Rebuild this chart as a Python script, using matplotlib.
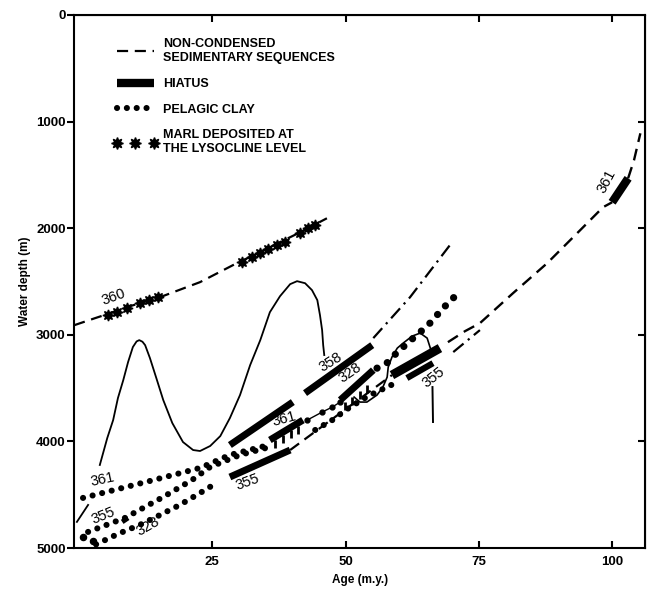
import matplotlib
matplotlib.use('Agg')
import matplotlib.pyplot as plt
from matplotlib.lines import Line2D

plt.rcParams['font.family'] = ['Liberation Sans', 'DejaVu Sans']

# age (m.y.) and water depth (m)

# marl line (site 360)
marl_age = [-0.9, 3.0, 5.3, 9.6, 15.2, 22.7, 29.6, 34.0, 37.7, 41.5, 44.7, 46.5]
marl_depth = [2910, 2844, 2806, 2731, 2647, 2506, 2328, 2225, 2131, 2038, 1954, 1907]
marl_star_age = [5.4, 7.1, 9.0, 11.4, 13.1, 14.8,
                 30.6, 32.5, 34.0, 35.5, 37.1, 38.6, 41.5, 43.0, 44.3]
marl_star_depth = [2816, 2788, 2750, 2703, 2675, 2647,
                   2319, 2272, 2235, 2197, 2160, 2132, 2047, 2001, 1973]

# solid curve
solid_a_age = [-0.4, 1.7]
solid_a_depth = [4755, 4596]
solid_b_age = [3.9, 5.3, 6.4, 7.3, 8.3, 9.2, 10.1, 10.8, 11.3, 11.9, 12.4, 13.3, 14.5, 15.8,
               17.5, 19.5, 21.4, 22.7, 24.6, 26.5, 28.3, 30.2, 32.1, 34.0, 35.8,
               37.7, 39.6, 40.9, 42.4, 43.7, 44.7, 45.2, 45.6, 45.8, 46.0]
solid_b_depth = [4221, 3968, 3800, 3593, 3425, 3256, 3115, 3062, 3050, 3065, 3097, 3218, 3406, 3612,
                 3828, 4006, 4081, 4090, 4043, 3950, 3781, 3565, 3284, 3050, 2788,
                 2638, 2525, 2497, 2516, 2581, 2675, 2816, 2956, 3097, 3190]

# pelagic clay rows
clay_361_age = [0.75, 13.3, 22.7, 28.3, 34.9]
clay_361_depth = [4530, 4371, 4249, 4127, 4043]
clay_355_age = [1.7, 8.6, 15.8, 21.2, 24.6, 30.2, 35.2]
clay_355_depth = [4849, 4718, 4521, 4362, 4240, 4127, 4060]
clay_328_age = [3.2, 7.3, 11.4, 15.2, 18.9, 22.7, 26.1]
clay_328_depth = [4966, 4868, 4783, 4690, 4596, 4484, 4380]
clay_mid_age = [44.3, 47.5, 50.3, 54.2, 57.8, 59.7]
clay_mid_depth = [3893, 3800, 3697, 3575, 3490, 3443]
clay_right_age = [55.9, 58.0, 59.7, 60.8, 62.7, 65.5, 68.3, 71.3]
clay_right_depth = [3313, 3256, 3162, 3115, 3031, 2909, 2750, 2600]
clay_extra_age = [0.75, 2.6]
clay_extra_depth = [4896, 4930]

# hiatuses (start, end)
hiatus_a = ([28.3, 40.1], [4034, 3631])
hiatus_358 = ([42.4, 55.0], [3547, 3097])
hiatus_355_low = ([28.3, 39.6], [4334, 4081])
hiatus_361_mid = ([35.8, 42.0], [3987, 3800])
hiatus_328 = ([49.0, 55.2], [3612, 3331])
hiatus_355_up = ([58.7, 67.7], [3378, 3125])
hiatus_355_up2 = ([61.5, 66.4], [3406, 3266])
hiatus_361_right = ([100.0, 103.0], [1757, 1532])
hiatus_small = ([8.1, 9.2], [4755, 4718])

comb_361_age = [36.8, 38.3, 39.8, 41.1]
comb_361_depth = [4024, 3978, 3931, 3893]
comb_328_age = [49.9, 51.2, 52.7, 54.0]
comb_328_depth = [3668, 3621, 3565, 3509]
hook_age = [42.8, 45.6, 47.5, 49.0]
hook_depth = [3800, 3725, 3678, 3631]

# non-condensed sequences
dash_355_age = [39.6, 58.7]
dash_355_depth = [4081, 3378]
dash_361_age = [69.2, 72.4, 75.2, 81.4, 87.8, 94.0, 98.3, 100.0]
dash_361_depth = [3069, 2966, 2891, 2610, 2329, 2019, 1803, 1757]
dash_361_top_age = [103.0, 104.1, 105.3]
dash_361_top_depth = [1532, 1363, 1110]
dashdot_358_age = [55.2, 62.1, 70.0]
dashdot_358_depth = [3031, 2647, 2131]
dashdot_355_age = [70.2, 75.2]
dashdot_355_depth = [3162, 2956]

loop_age = [51.6, 52.7, 54.0, 55.9, 57.0, 57.8, 58.0, 58.7, 59.7, 60.8, 62.5, 64.0, 65.3, 65.9]
loop_depth = [3584, 3631, 3631, 3565, 3490, 3397, 3303, 3209, 3125, 3078, 3012, 2984, 3031, 3125]
stem_age = [66.3, 66.4]
stem_depth = [3490, 3818]

# site numbers: text, age, depth, rotation
site_text = ['361', '355', '328', '355', '361', '358', '328', '355', '360', '361']
site_age = [4.4, 4.6, 13.0, 31.6, 38.4, 47.2, 50.9, 66.6, 6.5, 99.0]
site_depth = [4360, 4700, 4800, 4380, 3790, 3255, 3355, 3400, 2650, 1560]
site_rot = [12, 22, 30, 20, 15, 32, 35, 38, 20, 62]

DASH = (0, (5, 3))
DASHDOT = (0, (6, 2.5, 1, 2.5))
DOTS = (0, (0.01, 1.6))

fig = plt.figure(figsize=(6.55, 5.92), dpi=100)
ax = fig.add_axes([0.113, 0.0743, 0.872, 0.9004])


def dotted(a, d, size=4.4):
    ax.plot(a, d, color='k', lw=size, ls=DOTS, dash_capstyle='round')


def bar(seg, w=5.0):
    ax.plot(seg[0], seg[1], color='k', lw=w, solid_capstyle='butt')


# marl line
ax.plot(marl_age, marl_depth, color='k', lw=1.6, ls=DASH)
ax.plot(marl_star_age, marl_star_depth, ls='none', marker=(8, 1, 0),
        ms=8, color='k')

# solid curve
ax.plot(solid_a_age, solid_a_depth, color='k', lw=1.3)
ax.plot(solid_b_age, solid_b_depth, color='k', lw=1.3)

# pelagic clay
dotted(clay_361_age, clay_361_depth)
dotted(clay_355_age, clay_355_depth)
dotted(clay_328_age, clay_328_depth)
dotted(clay_mid_age, clay_mid_depth)
dotted(clay_right_age, clay_right_depth, size=5.2)
ax.plot(clay_extra_age, clay_extra_depth, 'o', color='k', ms=4.4)

# non-condensed lines
ax.plot(dash_355_age, dash_355_depth, color='k', lw=1.6, ls=DASH)
ax.plot(dash_361_age, dash_361_depth, color='k', lw=1.7, ls=DASH)
ax.plot(dash_361_top_age, dash_361_top_depth, color='k', lw=1.7, ls=DASH)
ax.plot(dashdot_358_age, dashdot_358_depth, color='k', lw=1.6, ls=DASHDOT)
ax.plot(dashdot_355_age, dashdot_355_depth, color='k', lw=1.6, ls=DASHDOT)

# loop and stem
ax.plot(loop_age, loop_depth, color='k', lw=1.2)
ax.plot(stem_age, stem_depth, color='k', lw=1.4)

# hiatuses
for seg in [hiatus_a, hiatus_358, hiatus_355_low, hiatus_361_mid, hiatus_328]:
    bar(seg)
bar(hiatus_355_up, 6.5)
bar(hiatus_355_up2, 4.5)
bar(hiatus_361_right, 6.0)
bar(hiatus_small, 3.5)
ax.plot(comb_361_age, comb_361_depth, ls='none', marker='|', ms=6, mew=2, color='k')
ax.plot(comb_328_age, comb_328_depth, ls='none', marker='|', ms=6, mew=2, color='k')
ax.plot(hook_age, hook_depth, color='k', lw=1.0, marker='o', ms=3.5)

for t, a, d, r in zip(site_text, site_age, site_depth, site_rot):
    ax.text(a, d, t, rotation=r, rotation_mode='anchor', ha='center',
            va='center', fontsize=10.5, color='k')

ax.set_xlim(-0.94, 106.2)
ax.set_ylim(5000, 0)
ax.set_xticks([25, 50, 75, 100])
ax.set_yticks([0, 1000, 2000, 3000, 4000, 5000])
ax.tick_params(axis='x', direction='in', length=5, width=1.5, labelsize=9.5, pad=6)
ax.tick_params(axis='y', direction='out', length=5, width=1.5, labelsize=9.5, pad=1)
for lbl in ax.get_xticklabels() + ax.get_yticklabels():
    lbl.set_fontweight('bold')
for sp in ax.spines.values():
    sp.set_linewidth(1.5)

top = ax.secondary_xaxis('top')
top.set_xticks([25, 50, 75, 100])
top.tick_params(direction='in', length=5, width=1.5, labeltop=False)
right = ax.secondary_yaxis('right')
right.set_yticks([1000, 2000, 3000, 4000])
right.tick_params(direction='in', length=5, width=1.5, labelright=False)

ax.set_xlabel('Age (m.y.)', fontsize=8.5, fontweight='bold', labelpad=4)
ax.set_ylabel('Water depth (m)', fontsize=8.5, fontweight='bold', labelpad=4)

handles = [
    Line2D([], [], color='k', lw=1.6, ls=DASH),
    Line2D([], [], color='k', lw=6, solid_capstyle='butt'),
    Line2D([], [], color='k', lw=4.4, ls=DOTS, dash_capstyle='round'),
    Line2D([], [], color='k', ls='none', marker=(8, 1, 0), ms=8.5),
]
labels = ['NON-CONDENSED\nSEDIMENTARY SEQUENCES', 'HIATUS', 'PELAGIC CLAY',
          'MARL DEPOSITED AT\nTHE LYSOCLINE LEVEL']
ax.legend(handles, labels, loc='upper left', bbox_to_anchor=(0.068, 0.956),
          frameon=False, borderpad=0, borderaxespad=0, handlelength=3.6,
          handletextpad=0.4, labelspacing=1.1, numpoints=3,
          prop={'size': 9, 'weight': 'bold'})

fig.savefig('out.png', dpi=100)
